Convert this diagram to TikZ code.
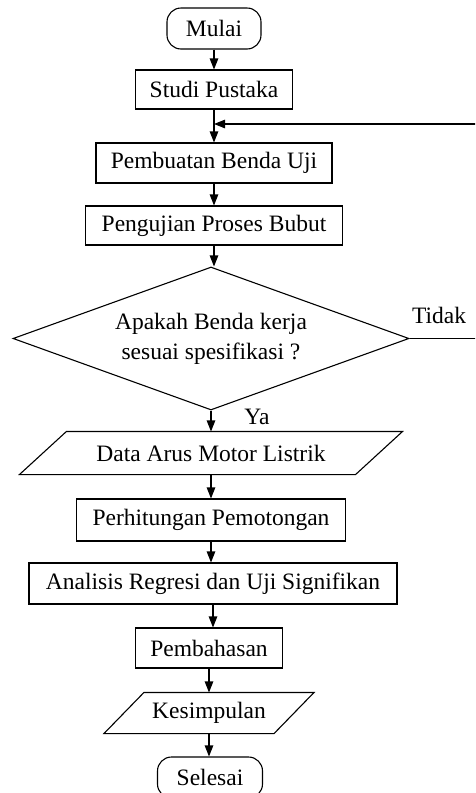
\documentclass[tikz,border=0pt]{standalone}
\usepackage{fontspec}
\setmainfont{Liberation Serif}
\usetikzlibrary{arrows.meta,shapes.geometric}
\tikzset{
  base/.style={draw=black, line width=1.1pt, inner sep=0pt, align=center,
    font=\fontsize{23.5}{30}\selectfont},
  procbox/.style={base, rectangle},
  termbox/.style={base, rectangle, rounded corners=14pt},
  iobox/.style={base, draw=none, rectangle},
  decbox/.style={base, diamond, aspect=2.77},
  lbl/.style={inner sep=0pt, font=\fontsize{23.5}{30}\selectfont},
  arr/.style={line width=1.1pt, -{Triangle[length=11pt,width=8.5pt]}},
  ln/.style={line width=1.1pt}
}
\begin{document}
\begin{tikzpicture}[x=1pt,y=-1pt]
\path[use as bounding box, clip] (0,0) rectangle (475,793);
\fill[white] (0,0) rectangle (475,793);

\node[termbox, minimum width=94pt, minimum height=41pt] (mulai) at (214,28.5) {Mulai};
\node[procbox, minimum width=157pt, minimum height=39pt] (studi) at (214,89.5) {Studi Pustaka};
\node[procbox, minimum width=236pt, minimum height=40pt] (pemb) at (214,163) {Pembuatan Benda Uji};
\node[procbox, minimum width=257pt, minimum height=39pt] (peng) at (214,225.5) {Pengujian Proses Bubut};
\node[decbox, minimum width=396pt, minimum height=143pt] (dia) at (211,338.5) {Apakah Benda kerja\\sesuai spesifikasi ?};
\node[iobox, minimum width=335pt, minimum height=42pt] (data) at (211,453) {Data Arus Motor Listrik};
\draw[ln] ([xshift=-23.5pt]data.south west) -- ([xshift=23.5pt]data.north west)
  -- ([xshift=23.5pt]data.north east) -- ([xshift=-23.5pt]data.south east) -- cycle;
\node[procbox, minimum width=269pt, minimum height=42pt] (hitung) at (211,520) {Perhitungan Pemotongan};
\node[procbox, minimum width=368pt, minimum height=41pt] (anal) at (213,583.5) {Analisis Regresi dan Uji Signifikan};
\node[procbox, minimum width=147pt, minimum height=40pt] (bahas) at (209,648) {Pembahasan};
\node[iobox, minimum width=169pt, minimum height=40pt] (simpul) at (209,713) {Kesimpulan};
\draw[ln] ([xshift=-20pt]simpul.south west) -- ([xshift=20pt]simpul.north west)
  -- ([xshift=20pt]simpul.north east) -- ([xshift=-20pt]simpul.south east) -- cycle;
\node[termbox, minimum width=105pt, minimum height=41pt] (selesai) at (210,777.5) {Selesai};

\node[lbl] (tidak) at (439,315) {Tidak};
\node[lbl] (ya) at (257,417) {Ya};

\coordinate (j) at (214,124);
\coordinate (r) at (479,124);

\draw[arr] (mulai.south) -- (mulai.south |- studi.north);
\draw[arr] (studi.south) -- (studi.south |- pemb.north);
\draw[arr] (pemb.south) -- (pemb.south |- peng.north);
\draw[arr] (peng.south) -- (peng.south |- dia.north);
\draw[arr] (dia.south) -- (dia.south |- data.north);
\draw[arr] (data.south) -- (data.south |- hitung.north);
\draw[arr] (hitung.south) -- (hitung.south |- anal.north);
\draw[arr] (anal.south) -- (anal.south |- bahas.north);
\draw[arr] (bahas.south) -- (bahas.south |- simpul.north);
\draw[arr] (simpul.south) -- (simpul.south |- selesai.north);
\draw[arr] (dia.east) -- (r |- dia.east) -- (r) -- (j);
\end{tikzpicture}
\end{document}
